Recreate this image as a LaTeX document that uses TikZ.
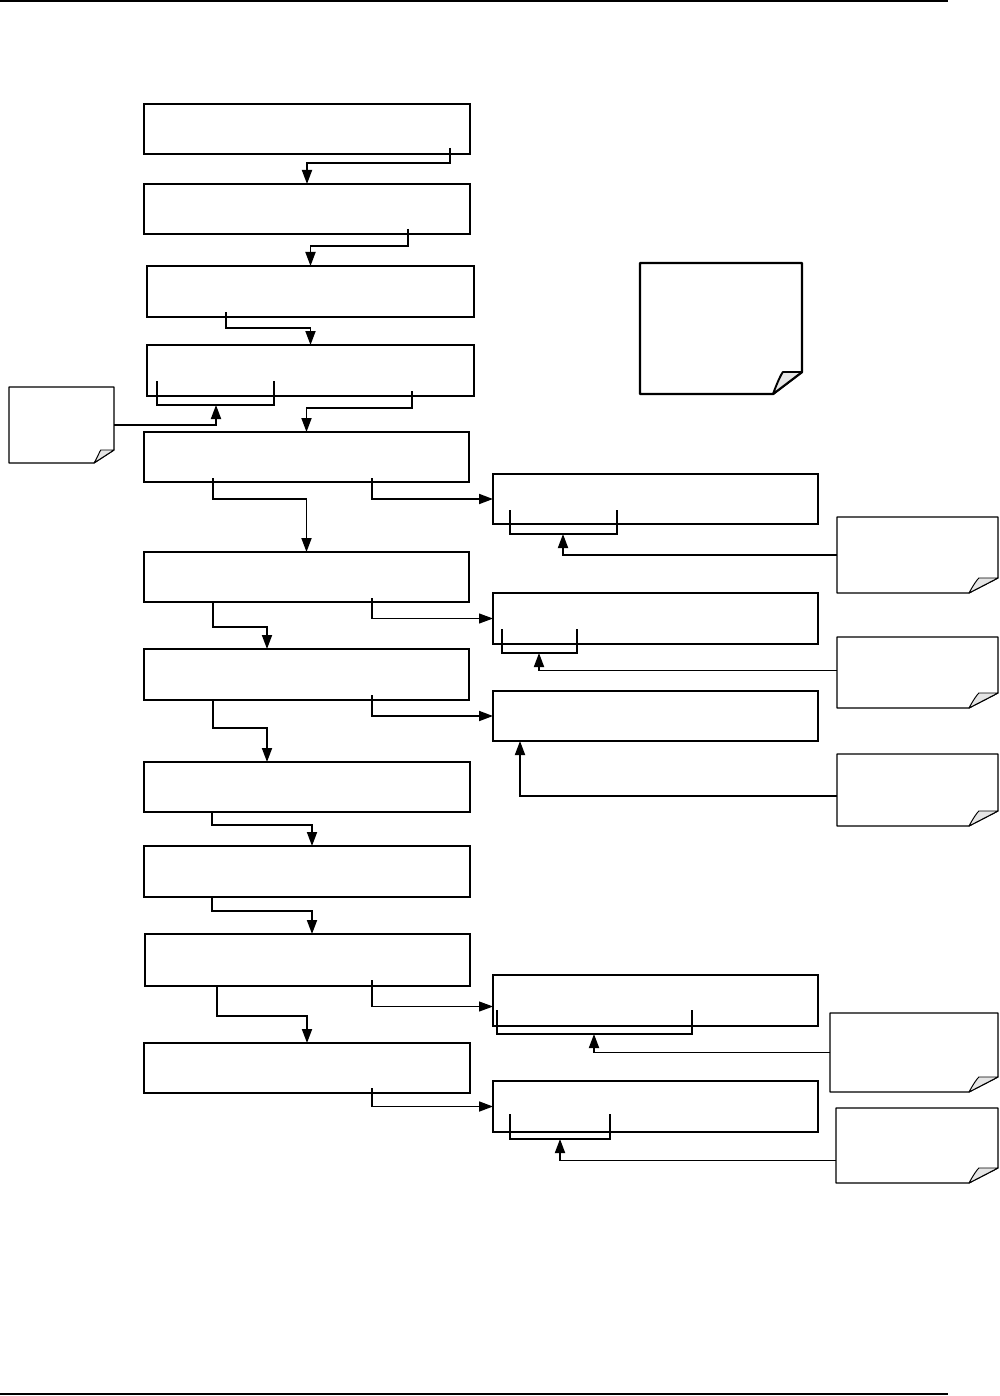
\documentclass[tikz,border=0pt]{standalone}
\usetikzlibrary{calc,arrows.meta}
\tikzset{
  box/.style={draw, line width=1.9pt, outer sep=0pt, inner sep=0pt, anchor=north west},
  noteanchor/.style={draw=none, outer sep=0pt, inner sep=0pt, anchor=north west},
  conn/.style={line width=1.8pt, -{Triangle[length=14pt,width=10pt]}},
  thinconn/.style={line width=1.1pt, -{Triangle[length=14pt,width=10pt]}},
  brk/.style={line width=1.8pt},
  rule/.style={line width=1.6pt},
}
\newcommand\curlnote[4]{%
  \draw[line width=#4, fill=white, line join=round]
    (#1.north west) -- (#1.north east) -- ($(#1.south east)+(0,-#3)$)
    -- ($(#1.south east)+(-#2,0)$) -- (#1.south west) -- cycle;
  \draw[line width=0.8*#4, fill=black!10, line join=round]
    ($(#1.south east)+(-#2,0)$)
    .. controls ($(#1.south east)+(-#2+4,-#3*0.5)$) and ($(#1.south east)+(-#2*0.72,-#3*0.9)$) ..
    ($(#1.south east)+(-#2*0.66,-#3)$) -- ($(#1.south east)+(0,-#3)$) -- cycle;
}
\begin{document}
\begin{tikzpicture}[x=1pt,y=-1pt]
\useasboundingbox (0,0) rectangle (999,1396);
% page rules
\draw[rule] (0,1) -- (948,1);
\draw[rule] (0,1394) -- (948,1394);

% main column
\node[box, minimum width=326pt, minimum height=50pt] (b1) at (144,104) {};
\node[box, minimum width=326pt, minimum height=50pt] (b2) at (144,184) {};
\node[box, minimum width=327pt, minimum height=51pt] (b3) at (147,266) {};
\node[box, minimum width=327pt, minimum height=51pt] (b4) at (147,345) {};
\node[box, minimum width=325pt, minimum height=50pt] (b5) at (144,432) {};
\node[box, minimum width=325pt, minimum height=50pt] (b6) at (144,552) {};
\node[box, minimum width=325pt, minimum height=51pt] (b7) at (144,649) {};
\node[box, minimum width=326pt, minimum height=50pt] (b8) at (144,762) {};
\node[box, minimum width=326pt, minimum height=51pt] (b9) at (144,846) {};
\node[box, minimum width=325pt, minimum height=52pt] (b10) at (145,934) {};
\node[box, minimum width=326pt, minimum height=50pt] (b11) at (144,1043) {};

% right column
\node[box, minimum width=325pt, minimum height=50pt] (r1) at (493,474) {};
\node[box, minimum width=325pt, minimum height=51pt] (r2) at (493,593) {};
\node[box, minimum width=325pt, minimum height=50pt] (r3) at (493,691) {};
\node[box, minimum width=325pt, minimum height=51pt] (r4) at (493,975) {};
\node[box, minimum width=325pt, minimum height=51pt] (r5) at (493,1081) {};

% notes
\node[noteanchor, minimum width=105pt, minimum height=76pt] (n0) at (9,387) {};
\node[noteanchor, minimum width=162pt, minimum height=131pt] (nb) at (640,263) {};
\node[noteanchor, minimum width=161pt, minimum height=76pt] (n1) at (837,517) {};
\node[noteanchor, minimum width=161pt, minimum height=71pt] (n2) at (837,637) {};
\node[noteanchor, minimum width=161pt, minimum height=72pt] (n3) at (837,754) {};
\node[noteanchor, minimum width=168pt, minimum height=79pt] (n4) at (830,1013) {};
\node[noteanchor, minimum width=162pt, minimum height=75pt] (n5) at (836,1108) {};
\curlnote{n0}{20}{13}{1.2pt}
\curlnote{nb}{29}{22}{2.4pt}
\curlnote{n1}{29}{15}{1.2pt}
\curlnote{n2}{29}{15}{1.2pt}
\curlnote{n3}{29}{15}{1.2pt}
\curlnote{n4}{29}{15}{1.2pt}
\curlnote{n5}{29}{15}{1.2pt}

% brackets inside boxes
\draw[brk] ($(b4.south west)+(10,-15)$) -- ++(0,24) -- ++(117,0) -- ++(0,-24);
\coordinate (k0) at ($(b4.south west)+(69,9)$);
\draw[brk] ($(r1.south west)+(17,-14)$) -- ++(0,24) -- ++(107,0) -- ++(0,-24);
\coordinate (k1) at ($(r1.south west)+(70,10)$);
\draw[brk] ($(r2.south west)+(9,-15)$) -- ++(0,24) -- ++(75,0) -- ++(0,-24);
\coordinate (k2) at ($(r2.south west)+(46,9)$);
\coordinate (k3) at ($(r3.south west)+(27,0)$);
\draw[brk] ($(r4.south west)+(4,-16)$) -- ++(0,24) -- ++(195,0) -- ++(0,-24);
\coordinate (k4) at ($(r4.south west)+(101,8)$);
\draw[brk] ($(r5.south west)+(17,-18)$) -- ++(0,25) -- ++(100,0) -- ++(0,-25);
\coordinate (k5) at ($(r5.south west)+(67,7)$);

% main flow connectors
\draw[conn] ($(b1.south west)+(306,-6)$) -- ++(0,15) -| (b2.north);
\draw[conn] ($(b2.south west)+(264,-5)$) -- ++(0,17) -| (b3.north);
\draw[conn] ($(b3.south west)+(79,-5)$) -- ++(0,16) -| (b4.north);
\draw[conn] ($(b4.south west)+(265,-5)$) -- ++(0,17) -| (b5.north);
\draw[conn] ($(b5.south west)+(69,-4)$) -- ++(0,21) -| (b6.north);
\draw[conn] ($(b6.south west)+(69,0)$) -- ++(0,25) -| ($(b7.north west)+(123,0)$);
\draw[conn] ($(b7.south west)+(69,0)$) -- ++(0,28) -| ($(b8.north west)+(123,0)$);
\draw[conn] ($(b8.south west)+(68,0)$) -- ++(0,13) -| ($(b9.north west)+(168,0)$);
\draw[conn] ($(b9.south west)+(68,0)$) -- ++(0,14) -| ($(b10.north west)+(167,0)$);
\draw[conn] ($(b10.south west)+(72,0)$) -- ++(0,30) -| (b11.north);

% to right column
\draw[conn] ($(b5.south west)+(228,-4)$) |- (r1.west);
\draw[thinconn] ($(b6.south west)+(228,-4)$) |- (r2.west);
\draw[conn] ($(b7.south west)+(228,-5)$) |- (r3.west);
\draw[thinconn] ($(b10.south west)+(227,-6)$) |- ($(r4.west)+(0,6)$);
\draw[conn] ($(b11.south west)+(228,-5)$) |- (r5.west);

% note connectors
\draw[conn] (n0.east) -| (k0);
\draw[conn] (n1.west) -| (k1);
\draw[conn] ($(n2.west)+(0,-2)$) -| (k2);
\draw[conn] ($(n3.west)+(0,6)$) -| (k3);
\draw[conn] (n4.west) -| (k4);
\draw[conn] ($(n5.west)+(0,15)$) -| (k5);
\end{tikzpicture}
\end{document}
